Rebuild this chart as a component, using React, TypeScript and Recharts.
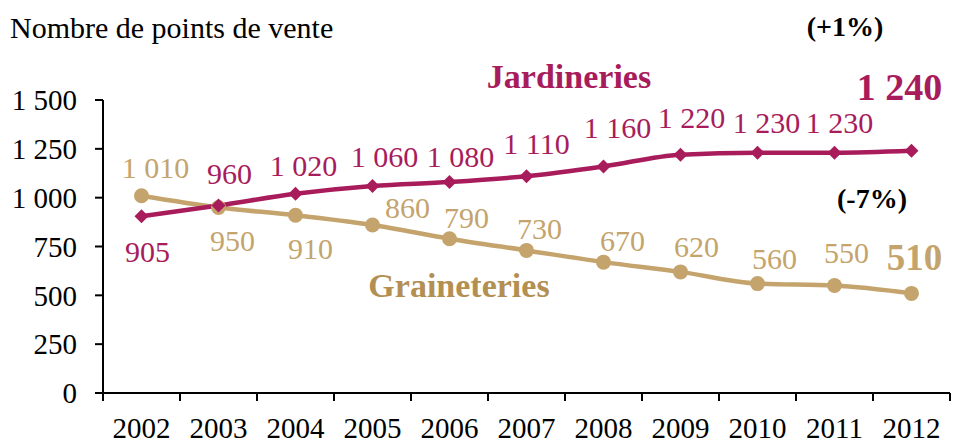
import { LineChart, Line, XAxis, YAxis, LabelList } from "recharts";

const YEARS = [2002, 2003, 2004, 2005, 2006, 2007, 2008, 2009, 2010, 2011, 2012];
const JARDINERIES = [905, 960, 1020, 1060, 1080, 1110, 1160, 1220, 1230, 1230, 1240];
const GRAINETERIES = [1010, 950, 910, 860, 790, 730, 670, 620, 560, 550, 510];
const Y_TICKS = [0, 250, 500, 750, 1000, 1250, 1500];

// label placement around each point (dx, dy), hand tuned
const JARD_OFFSETS = [[6, 35], [11, -32], [8, -28], [12, -29], [11, -26], [10, -33], [14, -39], [11, -37], [9, -30], [5, -30], [-12, -64]];
const GRAIN_OFFSETS = [[14, -28], [14, 33], [15, 33], [35, -18], [17, -21], [13, -22], [19, -22], [16, -25], [17, -25], [12, -33], [3, -36]];

const MAGENTA = "#a81c5c";
const TAN = "#c4a46c";
const TAN_DARK = "#b38f52";
const FONT = "'Liberation Serif', 'Times New Roman', serif";

const data = YEARS.map((year, i) => ({ year, jard: JARDINERIES[i], grain: GRAINETERIES[i] }));
const X_BOUNDS = [...YEARS.map((y) => y - 0.5), YEARS[YEARS.length - 1] + 0.5];

const fmt = (v: number) => (v >= 1000 ? `${Math.floor(v / 1000)} ${String(v % 1000).padStart(3, "0")}` : String(v));

function Diamond(props: any) {
  const { cx, cy } = props;
  if (cx == null || cy == null) return null;
  const r = 7;
  return <polygon points={`${cx},${cy - r} ${cx + r},${cy} ${cx},${cy + r} ${cx - r},${cy}`} fill={MAGENTA} />;
}

function Dot(props: any) {
  const { cx, cy } = props;
  if (cx == null || cy == null) return null;
  return <circle cx={cx} cy={cy} r={7.5} fill={TAN} />;
}

function makeLabel(offsets: number[][], color: string, bigSize: number) {
  return (props: any) => {
    const { x, y, value, index } = props;
    if (x == null || y == null) return null;
    const last = index === YEARS.length - 1;
    const [dx, dy] = offsets[index] || [0, -28];
    return (
      <text
        x={x + dx}
        y={y + dy}
        textAnchor="middle"
        dominantBaseline="central"
        fill={color}
        fontSize={last ? bigSize : 30}
        fontWeight={last ? 700 : 400}
        fontFamily={FONT}
      >
        {fmt(Number(value))}
      </text>
    );
  };
}

function Note({ x, y, text, color, size, bold }: { x: number; y: number; text: string; color: string; size: number; bold?: boolean }) {
  return (
    <span
      style={{
        position: "absolute",
        left: x,
        top: y,
        transform: "translate(-50%, -50%)",
        color,
        fontSize: size,
        fontWeight: bold ? 700 : 400,
        lineHeight: 1,
        whiteSpace: "nowrap",
      }}
    >
      {text}
    </span>
  );
}

export default function App() {
  return (
    <div style={{ position: "absolute", left: 0, top: 0, width: 955, height: 446, background: "#fff", fontFamily: FONT }}>
      <span style={{ position: "absolute", left: 10, top: 28, transform: "translateY(-50%)", fontSize: 30, lineHeight: 1, color: "#000", whiteSpace: "nowrap" }}>
        Nombre de points de vente
      </span>

      <LineChart width={955} height={446} data={data} margin={{ top: 100, right: 5, bottom: 0, left: 0 }} style={{ fontFamily: FONT }}>
        {/* axis line + tick marks on category boundaries, right on the plot edge */}
        <XAxis
          xAxisId="bounds"
          dataKey="year"
          type="number"
          domain={[2001.5, 2012.5]}
          ticks={X_BOUNDS}
          interval={0}
          tick={() => <g />}
          tickSize={8}
          tickLine={{ stroke: "#000", strokeWidth: 2 }}
          axisLine={{ stroke: "#000", strokeWidth: 2 }}
          height={1}
        />
        <XAxis
          xAxisId="years"
          dataKey="year"
          type="number"
          domain={[2001.5, 2012.5]}
          ticks={YEARS}
          interval={0}
          tickLine={false}
          tickSize={0}
          tickMargin={23}
          axisLine={false}
          tick={{ fill: "#000", fontSize: 29 }}
          height={52}
        />
        <YAxis
          domain={[0, 1500]}
          ticks={Y_TICKS}
          interval={0}
          width={103}
          tickSize={8}
          tickMargin={18}
          tickFormatter={fmt}
          tick={{ fill: "#000", fontSize: 29 }}
          tickLine={{ stroke: "#000", strokeWidth: 2 }}
          axisLine={{ stroke: "#000", strokeWidth: 2 }}
        />
        <Line
          xAxisId="years"
          type="monotone"
          dataKey="grain"
          stroke={TAN}
          strokeWidth={4.5}
          dot={(p: any) => <Dot key={`g${p.index}`} {...p} />}
          activeDot={false}
          isAnimationActive={false}
        >
          <LabelList dataKey="grain" content={makeLabel(GRAIN_OFFSETS, TAN, 37)} />
        </Line>
        <Line
          xAxisId="years"
          type="monotone"
          dataKey="jard"
          stroke={MAGENTA}
          strokeWidth={4.5}
          dot={(p: any) => <Diamond key={`j${p.index}`} {...p} />}
          activeDot={false}
          isAnimationActive={false}
        >
          <LabelList dataKey="jard" content={makeLabel(JARD_OFFSETS, MAGENTA, 38)} />
        </Line>
      </LineChart>

      <Note x={569} y={77} text="Jardineries" color={MAGENTA} size={34} bold />
      <Note x={459} y={286} text="Graineteries" color={TAN_DARK} size={34} bold />
      <Note x={845} y={27} text="(+1%)" color="#000" size={28} bold />
      <Note x={872} y={199} text="(-7%)" color="#000" size={28} bold />
    </div>
  );
}
